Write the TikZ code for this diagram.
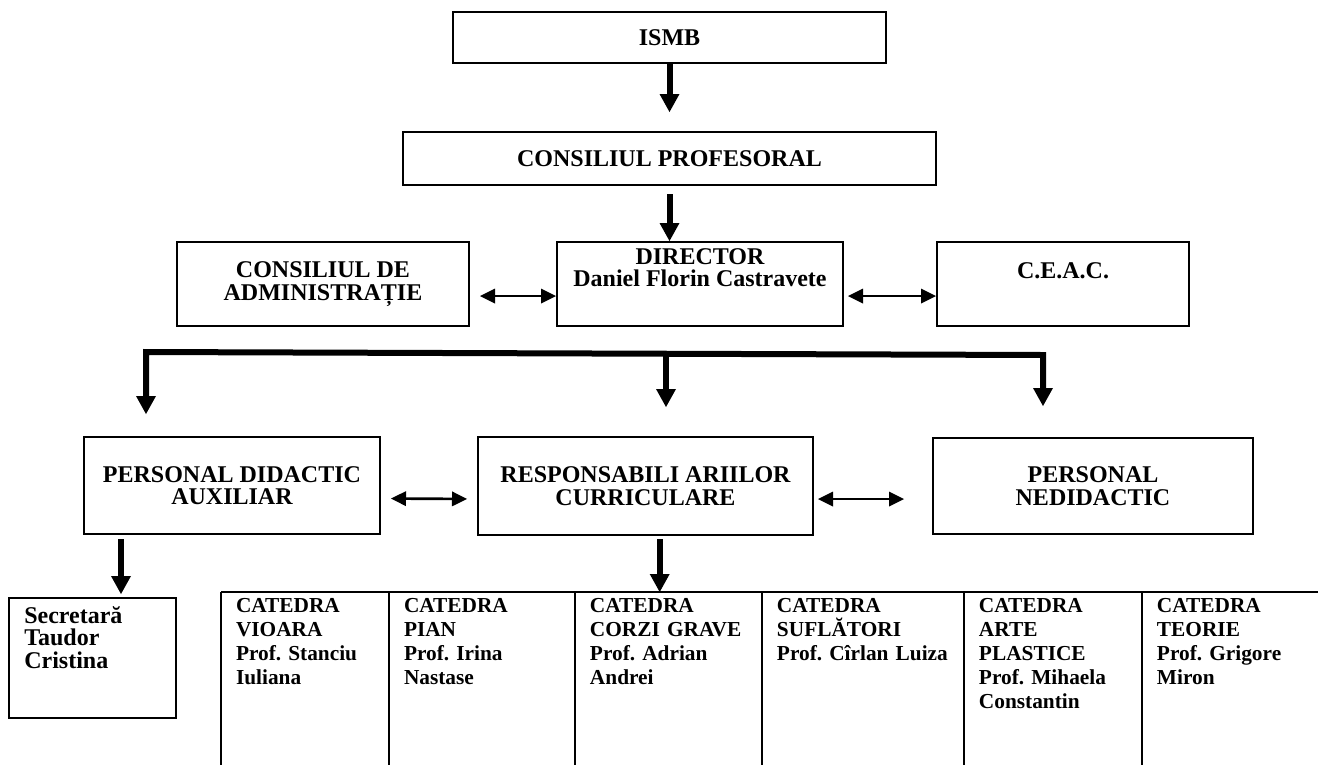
\documentclass[tikz,border=0pt]{standalone}
\usepackage{fontspec}
\setmainfont{Liberation Serif}
\usetikzlibrary{matrix, calc, positioning, arrows.meta}
\newcommand{\boxfont}{\fontsize{18}{17}\selectfont\bfseries}
\newcommand{\cellfont}{\fontsize{16}{18}\selectfont\bfseries\frenchspacing}

\begin{document}
\begin{tikzpicture}[x=0.75pt, y=-0.75pt,
	org box/.style={draw, line width=1.5pt, align=center, inner sep=0pt, font=\boxfont},
	box text/.style={align=center, inner sep=0pt, font=\boxfont},
	cell/.style={anchor=north, align=left, inner xsep=11.25pt, inner ysep=4.5pt, font=\cellfont},
	big head/.tip={Triangle[length=13.5pt, width=15pt, line width=0pt]},
	small head/.tip={Triangle[length=11.25pt, width=11.25pt, line width=0pt]},
	big arrow/.style={line width=4.5pt, -{big head}},
	bus arrow/.style={line width=4.5pt, {big head}-{big head}},
	both arrow/.style={line width=2pt, {small head}-{small head}},
	grid line/.style={line width=1.5pt}]
	\useasboundingbox (0,0) rectangle (1318,765);
	\coordinate (page ne) at (1318,0);
	\coordinate (page sw) at (0,765);

	% boxes
	\node[org box, minimum width=324.75pt, minimum height=38.25pt] (ismb) at (669.5,37.5) {ISMB};
	\node[org box, minimum width=399.75pt, minimum height=39.75pt] (cons prof) at (669.5,158.5) {CONSILIUL PROFESORAL};
	\node[org box, minimum width=219pt, minimum height=63pt] (cons admin) at (323,284) {CONSILIUL DE\\ADMINISTRAȚIE};
	\node[org box, minimum width=214.5pt, minimum height=63pt] (director) at (700,284) {};
	\node[box text, below=5.25pt of director.north] (director text) {DIRECTOR\\Daniel Florin Castravete};
	\node[org box, minimum width=189pt, minimum height=63pt] (ceac) at (1063,284) {};
	\node[box text, below=15.75pt of ceac.north] (ceac text) {C.E.A.C.};
	\node[org box, minimum width=222pt, minimum height=72.75pt] (pers did) at (232,485.5) {PERSONAL DIDACTIC\\AUXILIAR};
	\node[org box, minimum width=251.25pt, minimum height=73.5pt] (resp arii) at (645.5,486) {RESPONSABILI ARIILOR\\CURRICULARE};
	\node[org box, minimum width=240pt, minimum height=72pt] (pers nedid) at (1093,486) {PERSONAL\\NEDIDACTIC};
	\node[org box, minimum width=125.25pt, minimum height=90pt] (secretara) at (92.5,658) {};
	\node[box text, align=left, below right=6.75pt and 12pt of secretara.north west] (secretara text) {Secretară\\Taudor\\Cristina};

	% catedre
	\path node[matrix of nodes, ampersand replacement=\&, anchor=north west, inner sep=0pt, outer sep=0pt, column sep=0pt] (catedre) at (221,592) {
		\node[cell, text width=103.5pt] (cat vioara) {CATEDRA\\VIOARA\\Prof.~Stanciu\\Iuliana};
		\& \node[cell, text width=117pt] (cat pian) {CATEDRA\\PIAN\\Prof.~Irina\\Nastase};
		\& \node[cell, text width=117.75pt] (cat corzi) {CATEDRA\\CORZI~GRAVE\\Prof.~Adrian\\Andrei};
		\& \node[cell, text width=129pt] (cat suflatori) {CATEDRA\\SUFLĂTORI\\Prof.~Cîrlan~Luiza};
		\& \node[cell, text width=111pt] (cat arte) {CATEDRA\\ARTE\\PLASTICE\\Prof.~Mihaela\\Constantin};
		\& \node[cell, text width=109.5pt] (cat teorie) {CATEDRA\\TEORIE\\Prof.~Grigore\\Miron};\\
	};
	\draw[grid line] (catedre.north west) -- (catedre.north west -| page ne);
	\foreach \c in {cat vioara, cat pian, cat corzi, cat suflatori, cat arte, cat teorie}
		\draw[grid line] (\c.north west) -- (\c.north west |- page sw);

	% arrows
	\draw[big arrow, shorten >=14.25pt] (ismb) -- (cons prof);
	\draw[big arrow, shorten <=6pt] (cons prof.south) -- (cons prof.south |- director.north);
	\draw[both arrow, shorten <=7.5pt] ([yshift=-9pt]cons admin.east) -- ([yshift=-9pt]director.west);
	\draw[both arrow, shorten <=3pt] ([yshift=-9pt]director.east) -- ([yshift=-9pt]ceac.west);

	\coordinate (bus left) at (146,352);
	\coordinate (bus mid) at (666,353.5);
	\coordinate (bus right) at (1043,355);
	\draw[bus arrow, shorten <=16.5pt, shorten >=23.25pt] (bus left |- pers did.north) -- (bus left) -- (bus right) -- (bus right |- pers nedid.north);
	\draw[big arrow, shorten >=21.75pt] (bus mid) -- (bus mid |- resp arii.north);

	\draw[both arrow, shorten <=7.5pt, shorten >=7.5pt] ([yshift=-9.75pt]pers did.east) -- ([yshift=-9.75pt]resp arii.west);
	\draw[both arrow, shorten <=3pt, shorten >=21pt] ([yshift=-9.75pt]resp arii.east) -- ([yshift=-9.75pt]pers nedid.west);

	\coordinate (sec drop) at ([xshift=-83.25pt]pers did.south);
	\draw[big arrow, shorten <=3pt, shorten >=2.25pt] (sec drop) -- (sec drop |- secretara.north);
	\coordinate (cat drop) at ([xshift=10.65pt]resp arii.south);
	\draw[big arrow, shorten <=2.25pt] (cat drop) -- (cat drop |- catedre.north);
\end{tikzpicture}
\end{document}
